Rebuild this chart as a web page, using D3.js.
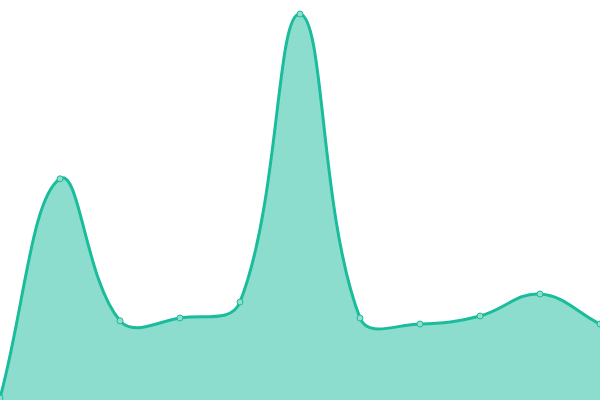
<!DOCTYPE html>
<html>
<head>
<meta charset="utf-8">
<script src="https://cdn.jsdelivr.net/npm/d3@7"></script>
<style>
  html, body { margin: 0; padding: 0; background: #fff; }
  svg { display: block; }
</style>
</head>
<body>
<div id="chart"></div>
<script>
// chart data
var labels = [0, 1, 2, 3, 4, 5, 6, 7, 8, 9, 10];
var values = [0.5, 55.3, 19.8, 20.5, 24.5, 96.5, 20.5, 19, 21, 26.5, 19];

var width = 600,
    height = 400;

// spline with tension, control points scaled by neighbour distances
function SplineCurve(context, tension) {
    this._context = context;
    this._t = tension;
}
SplineCurve.prototype = {
    areaStart: function() { this._line = 0; },
    areaEnd: function() { this._line = NaN; },
    lineStart: function() { this._pts = []; },
    point: function(x, y) { this._pts.push([+x, +y]); },
    lineEnd: function() {
        var p = this._pts, n = p.length, c = this._context, t = this._t;
        var cpPrev = [], cpNext = [];
        for (var i = 0; i < n; i++) {
            var prev = p[i - 1] || p[i], cur = p[i], next = p[i + 1] || p[i];
            var d01 = Math.hypot(cur[0] - prev[0], cur[1] - prev[1]),
                d12 = Math.hypot(next[0] - cur[0], next[1] - cur[1]);
            var s01 = d01 / (d01 + d12) || 0,
                s12 = d12 / (d01 + d12) || 0;
            var fa = t * s01, fb = t * s12;
            cpPrev.push([cur[0] - fa * (next[0] - prev[0]), cur[1] - fa * (next[1] - prev[1])]);
            cpNext.push([cur[0] + fb * (next[0] - prev[0]), cur[1] + fb * (next[1] - prev[1])]);
        }
        if (n) {
            if (this._line) c.lineTo(p[0][0], p[0][1]);
            else c.moveTo(p[0][0], p[0][1]);
        }
        for (var j = 1; j < n; j++) {
            c.bezierCurveTo(cpNext[j - 1][0], cpNext[j - 1][1], cpPrev[j][0], cpPrev[j][1], p[j][0], p[j][1]);
        }
        if (this._line || (this._line !== 0 && n === 1)) c.closePath();
        this._line = 1 - this._line;
    }
};
var curve = function(context) { return new SplineCurve(context, 0.4); };

var svg = d3.select('#chart')
    .append('svg')
    .attr('width', width)
    .attr('height', height);

var x = d3.scaleLinear()
    .domain(d3.extent(labels))
    .range([0, width]);

var y = d3.scaleLinear()
    .domain([0, 100])
    .range([height, 0]);

var points = labels.map(function(l, i) { return { label: l, value: values[i] }; });

var area = d3.area()
    .x(function(d) { return x(d.label); })
    .y0(height)
    .y1(function(d) { return y(d.value); })
    .curve(curve);

var line = d3.line()
    .x(function(d) { return x(d.label); })
    .y(function(d) { return y(d.value); })
    .curve(curve);

svg.append('path')
    .datum(points)
    .attr('d', area)
    .attr('fill', '#1abc9c')
    .attr('fill-opacity', 0.5);

svg.append('path')
    .datum(points)
    .attr('d', line)
    .attr('fill', 'none')
    .attr('stroke', '#1abc9c')
    .attr('stroke-width', 3);

svg.selectAll('circle')
    .data(points).enter()
    .append('circle')
    .attr('cx', function(d) { return x(d.label); })
    .attr('cy', function(d) { return y(d.value); })
    .attr('r', 3)
    .attr('fill', '#8ee0cc')
    .attr('stroke', '#1abc9c')
    .attr('stroke-width', 1);
</script>
</body>
</html>
